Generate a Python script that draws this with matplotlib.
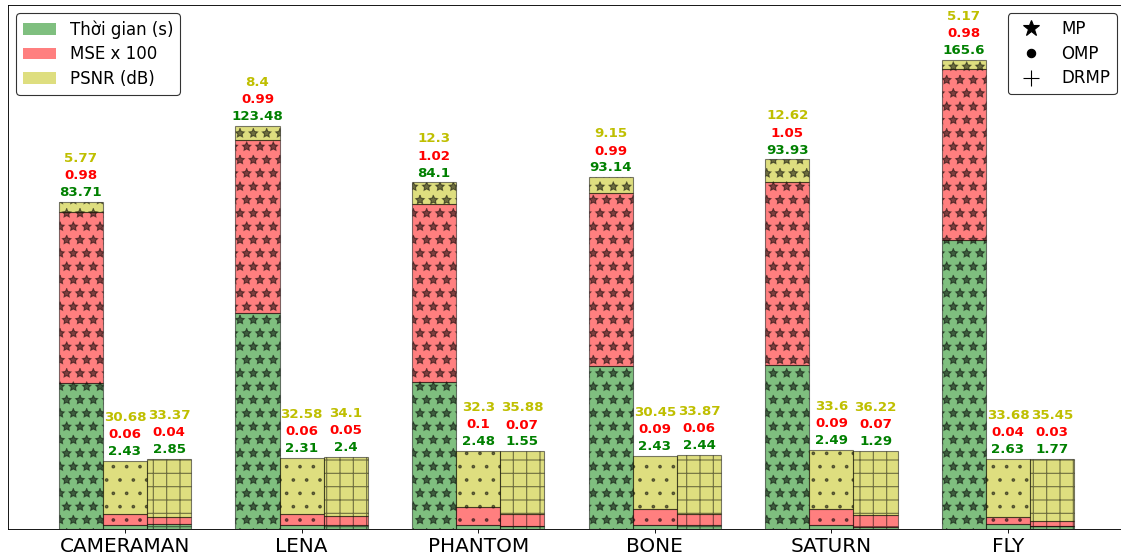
import numpy as np
import matplotlib
matplotlib.use("Agg")
import matplotlib.pyplot as plt
from matplotlib.patches import Patch
from matplotlib.lines import Line2D

categories = ["CAMERAMAN", "LENA", "PHANTOM", "BONE", "SATURN", "FLY"]
methods = ["MP", "OMP", "DRMP"]

# Runtime in seconds
time_mp = [83.71, 123.48, 84.1, 93.14, 93.93, 165.6]
time_omp = [2.43, 2.31, 2.48, 2.43, 2.49, 2.63]
time_drmp = [2.85, 2.4, 1.55, 2.44, 1.29, 1.77]

# Mean squared error
mse_mp = [0.98, 0.99, 1.02, 0.99, 1.05, 0.98]
mse_omp = [0.06, 0.06, 0.1, 0.09, 0.09, 0.04]
mse_drmp = [0.04, 0.05, 0.07, 0.06, 0.07, 0.03]

# PSNR in dB
psnr_mp = [5.77, 8.4, 12.3, 9.15, 12.62, 5.17]
psnr_omp = [30.68, 32.58, 32.3, 30.45, 33.6, 33.68]
psnr_drmp = [33.37, 34.1, 35.88, 33.87, 36.22, 35.45]

times = [time_mp, time_omp, time_drmp]
mses = [mse_mp, mse_omp, mse_drmp]
psnrs = [psnr_mp, psnr_omp, psnr_drmp]
hatches = ["*", ".", "+"]
markers = ["*", ".", "+"]

fig = plt.figure(figsize=(1121 / 80, 558 / 80), dpi=80)
ax = fig.add_axes([8 / 1121, 29 / 558, (1125 - 8) / 1121, 524 / 558])

x = np.arange(len(categories))
width = 0.25

for i in range(len(methods)):
    xs = x + (i - 1) * width
    t = np.array(times[i])
    m = np.array(mses[i]) * 100
    p = np.array(psnrs[i])
    ax.bar(xs, t, width, color="green", alpha=0.5, hatch=hatches[i], edgecolor="black")
    ax.bar(xs, m, width, bottom=t, color="red", alpha=0.5, hatch=hatches[i], edgecolor="black")
    ax.bar(xs, p, width, bottom=t + m, color="y", alpha=0.5, hatch=hatches[i], edgecolor="black")
    tops = t + m + p
    for xi, top, tv, mv, pv in zip(xs, tops, times[i], mses[i], psnrs[i]):
        ax.text(xi, top + 3.4, f"{tv:g}", ha="center", va="baseline",
                color="green", fontsize=12, fontweight="bold")
        ax.text(xi, top + 13.1, f"{mv:g}", ha="center", va="baseline",
                color="red", fontsize=12, fontweight="bold")
        ax.text(xi, top + 22.9, f"{pv:g}", ha="center", va="baseline",
                color="y", fontsize=12, fontweight="bold")

ax.set_xticks(x)
ax.set_xticklabels(categories, fontsize=18)
ax.set_yticks([])
ax.set_ylim(0, 300)
ax.set_xlim(-0.6625, 5.6625)

metric_handles = [
    Patch(facecolor="green", alpha=0.5, label="Thời gian (s)"),
    Patch(facecolor="red", alpha=0.5, label="MSE x 100"),
    Patch(facecolor="y", alpha=0.5, label="PSNR (dB)"),
]
leg1 = ax.legend(handles=metric_handles, loc="upper left", fontsize=15,
                 edgecolor="black", labelspacing=0.4)
ax.add_artist(leg1)

method_handles = [
    Line2D([], [], color="black", marker=mk, linestyle="none", markersize=15, label=name)
    for mk, name in zip(markers, methods)
]
ax.legend(handles=method_handles, loc="upper right", fontsize=15,
          edgecolor="black", labelspacing=0.4)

fig.savefig("out.png", dpi=80)
